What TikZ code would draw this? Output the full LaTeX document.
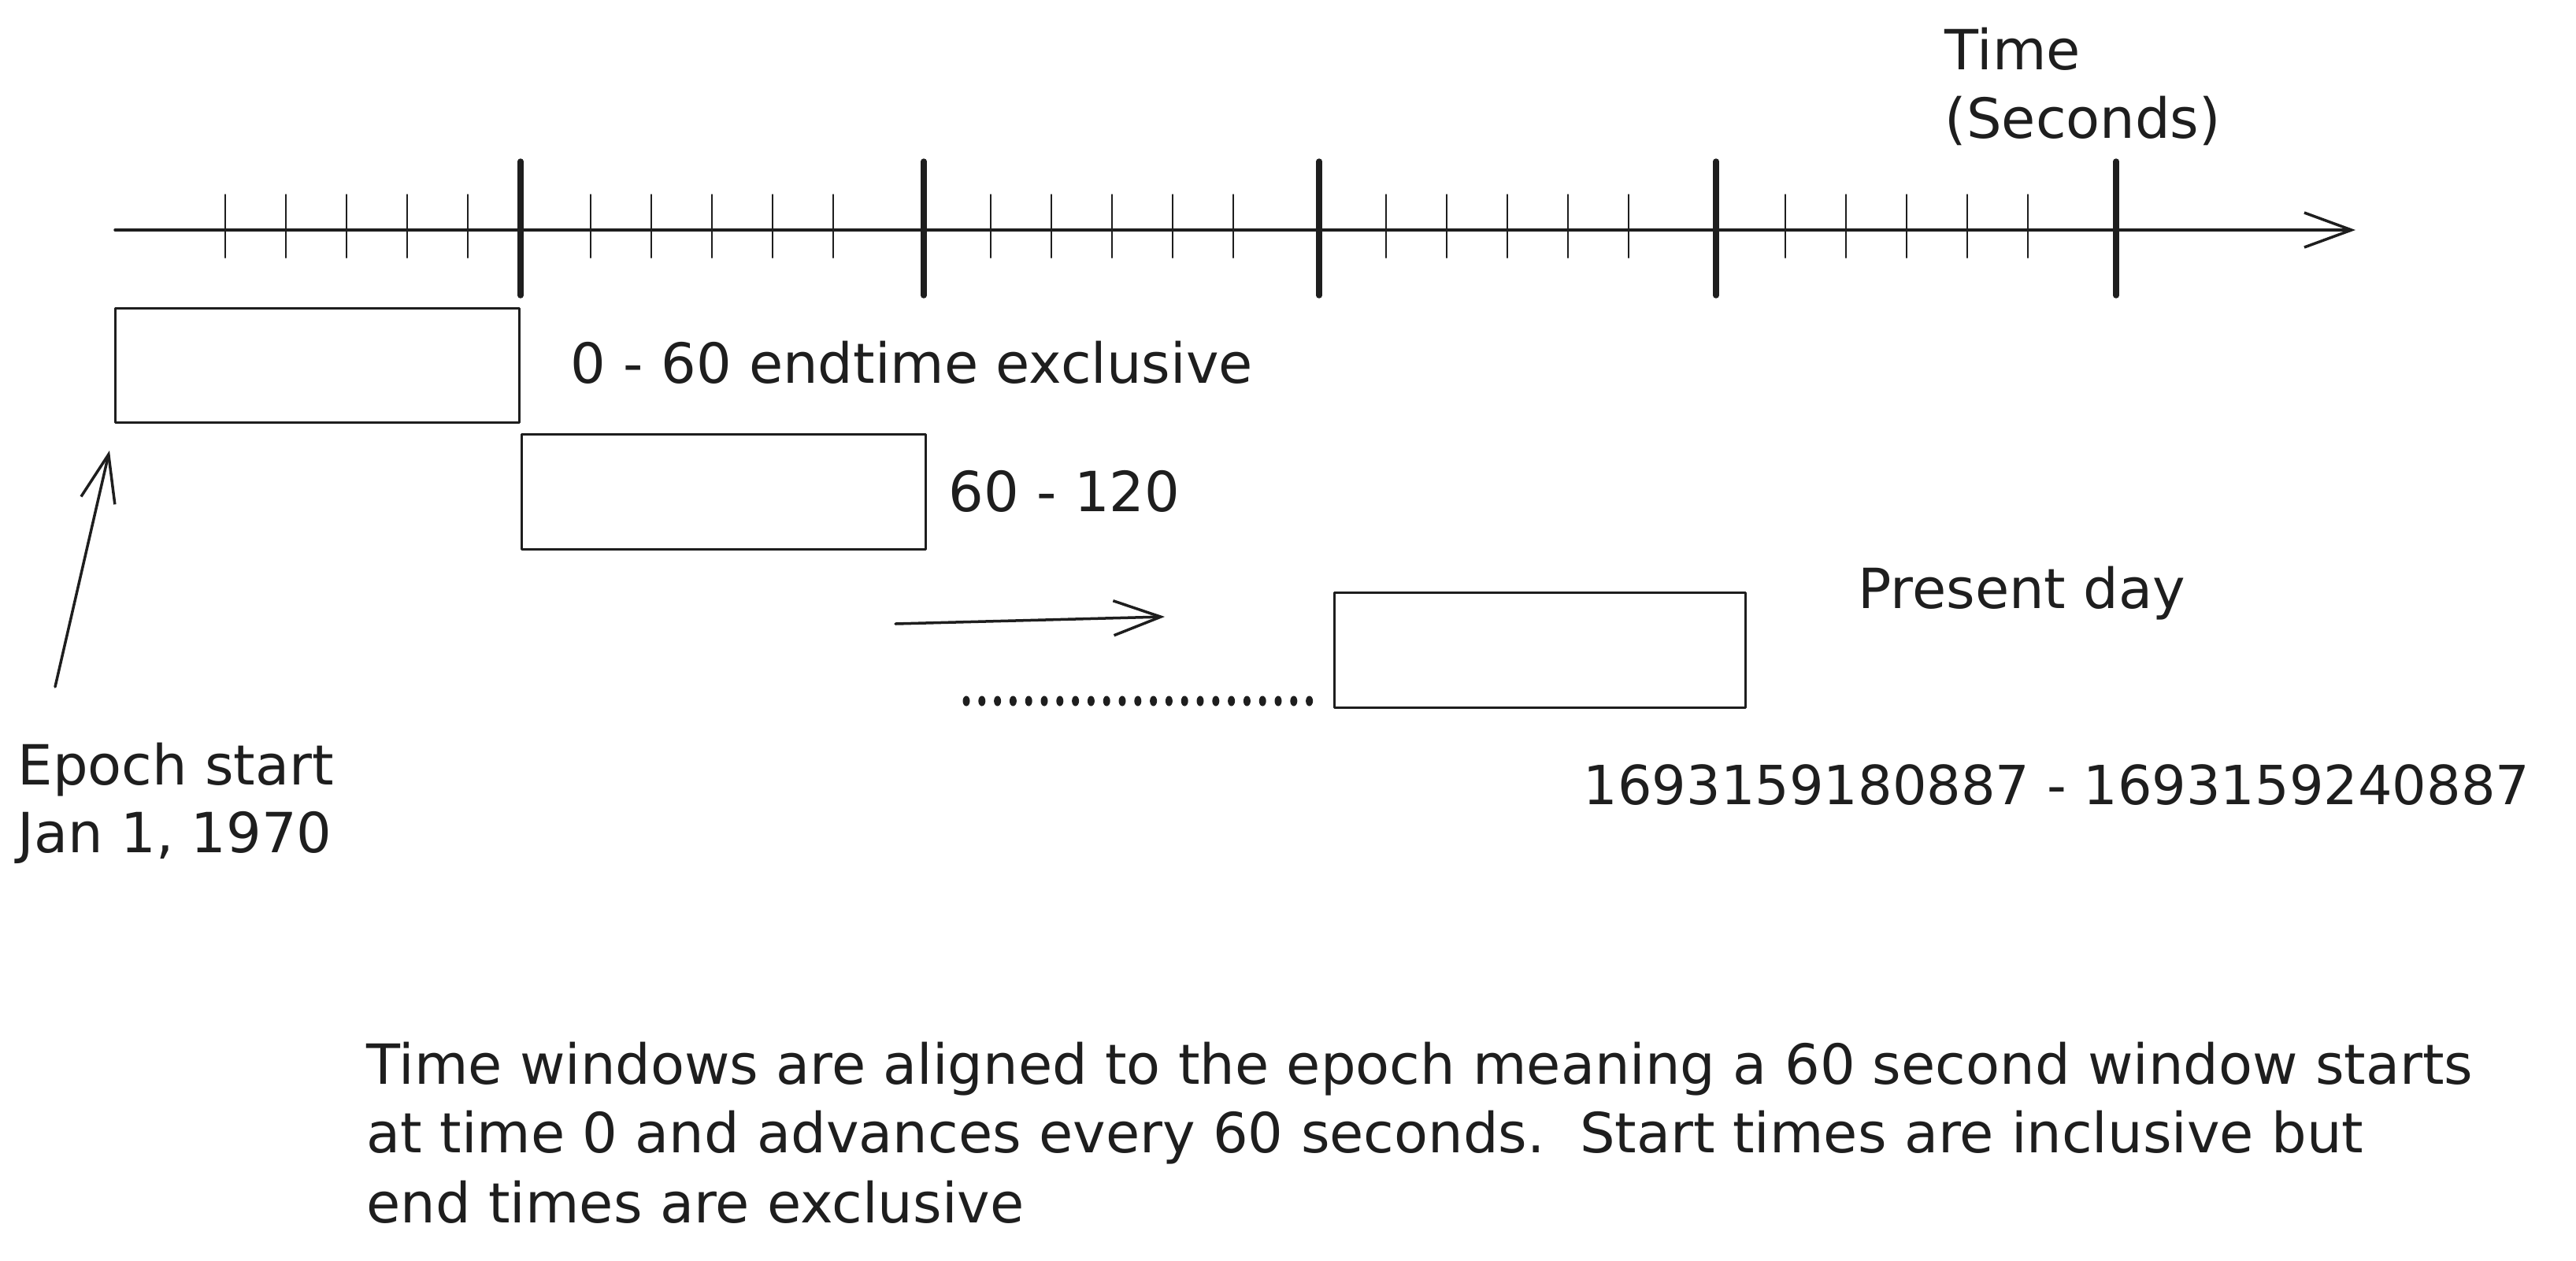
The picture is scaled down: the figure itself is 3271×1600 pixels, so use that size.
\documentclass[tikz,border=0pt]{standalone}
\usepackage{fontspec}
\setmainfont{DejaVu Sans}
\usetikzlibrary{arrows.meta}
\definecolor{ink}{HTML}{1E1E1E}

\begin{document}
\begin{tikzpicture}[x=0.1mm, y=-0.1mm, line cap=round, line join=round,
  lbl/.style={font=\fontsize{20}{25.2}\selectfont, text=ink, inner sep=0pt, anchor=base west},
  axisline/.style={draw=ink, line width=0.45mm},
  major/.style={draw=ink, line width=0.75mm},
  minor/.style={draw=ink, line width=0.2mm},
  winbox/.style={draw=ink, line width=0.3mm},
  barb/.style={draw=ink, line width=0.35mm, -{Straight Barb[length=6mm, width=4.4mm]}}]
  \useasboundingbox (0,0) rectangle (3271,1600);

  % time axis
  \coordinate (t0) at (146,292);
  \coordinate (tend) at (2991,292);
  \draw[axisline, barb] (t0) -- (tend);
  \foreach \x in {661,1173,1675,2179,2687} { \draw[major] (\x,205) -- (\x,375); }
  \foreach \m in {286,750,1258,1760,2267} {
    \foreach \k in {0,...,4} { \draw[minor] ({\m+77*\k},247) -- ({\m+77*\k},327); }
  }
  \node[lbl] (timelbl) at (2469,88) {Time};
  \node[lbl] (seclbl) at (2469,175) {(Seconds)};

  % windows
  \draw[winbox] (146,391) rectangle (659,536);
  \node[lbl] (win0lbl) at (724,486) {0 - 60 endtime exclusive};
  \draw[winbox] (662,551) rectangle (1175,697);
  \node[lbl] (win1lbl) at (1204,649) {60 - 120};
  \draw[winbox] (1694,752) rectangle (2216,898);
  \node[lbl] (nowlbl) at (2359,772) {Present day};
  \node[lbl, font=\fontsize{19.5}{24}\selectfont] (nowrange) at (2010,1021) {1693159180887 - 1693159240887};

  % skip ahead
  \coordinate (gofrom) at (1137,792);
  \coordinate (goto) at (1479,783);
  \draw[barb] (gofrom) -- (goto);
  \foreach \k in {0,...,22} { \fill[ink] ({1227+19.8*\k},890) ellipse (4.5 and 6.5); }

  % epoch
  \node[lbl] (epochlbl) at (22,996) {Epoch start};
  \node[lbl] (epochdate) at (22,1082) {Jan 1, 1970};
  \coordinate (etail) at (70,872);
  \coordinate (ehead) at (139,572);
  \draw[barb] (etail) -- (ehead);

  % note
  \node[lbl] (note1) at (465,1376) {Time windows are aligned to the epoch meaning a 60 second window starts};
  \node[lbl] (note2) at (465,1463) {at time 0 and advances every 60 seconds.\ \ Start times are inclusive but};
  \node[lbl] (note3) at (465,1552) {end times are exclusive};
\end{tikzpicture}
\end{document}
